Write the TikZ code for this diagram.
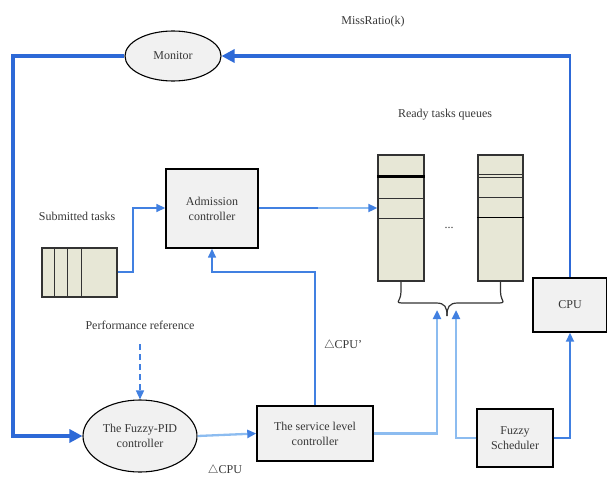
\documentclass[tikz,border=0pt]{standalone}
\usepackage{fontspec}
\setmainfont{Liberation Serif}
\usetikzlibrary{arrows.meta,shapes.geometric,calc}
\definecolor{thickblue}{RGB}{45,105,215}
\definecolor{lightblue}{RGB}{140,188,240}
\definecolor{midblue}{RGB}{65,128,225}
\definecolor{boxfill}{RGB}{241,241,241}
\definecolor{qfill}{RGB}{231,231,214}
\definecolor{txt}{RGB}{55,55,55}
\begin{document}
\begin{tikzpicture}[x=1pt,y=-1pt,
  font=\fontsize{12}{15}\selectfont,
  box/.style={draw=black, line width=1.4pt, fill=boxfill, inner sep=0pt, align=center, text=txt},
  oval/.style={ellipse, draw=black, line width=1.1pt, fill=boxfill, inner sep=0pt, align=center, text=txt},
  queue/.style={draw=black!80, line width=1.4pt, fill=qfill, inner sep=0pt},
  lbl/.style={text=txt, inner sep=0pt},
  loopline/.style={draw=thickblue, line width=3.2pt},
  liteline/.style={draw=lightblue, line width=2.3pt},
  thinline/.style={draw=midblue, line width=1.5pt},
  bigtip/.style={-{Triangle[length=13pt,width=13pt,color=thickblue]}},
  smalltip/.style={-{Triangle[length=9pt,width=8pt,color=midblue]}}]
\useasboundingbox (0,0) rectangle (607,479);

% nodes
\node[oval, minimum width=96pt, minimum height=50pt] (mon) at (173,56) {Monitor};
\node[oval, minimum width=114pt, minimum height=72pt] (fpid) at (140,436) {The Fuzzy-PID\\controller};
\node[box, minimum width=92pt, minimum height=79pt] (adm) at (212,208.5) {Admission\\controller};
\node[box, minimum width=116pt, minimum height=55pt] (srv) at (315,433.5) {The service level\\controller};
\node[box, minimum width=76pt, minimum height=58pt] (fsch) at (515,438) {Fuzzy\\Scheduler};
\node[box, minimum width=74pt, minimum height=54pt] (cpu) at (570,305) {CPU};

\node[queue, minimum width=75pt, minimum height=49pt] (subq) at (79.5,272.5) {};
\node[queue, minimum width=46pt, minimum height=126pt] (q1) at (401,218) {};
\node[queue, minimum width=45pt, minimum height=126pt] (q2) at (500.5,218) {};

% labels
\node[lbl] (missratio) at (373,22) {MissRatio(k)};
\node[lbl] (ready) at (445,115) {Ready tasks queues};
\node[lbl] (subm) at (77,216) {Submitted tasks};
\node[lbl] (perf) at (140,325) {Performance reference};
\node[lbl] (dcpup) at (343,345) {$\triangle$CPU'};
\node[lbl] (dcpu) at (225,470) {$\triangle$CPU};
\node[lbl] (dots) at (449,228) {...};

% queue internals
\draw[black!80, line width=1.4pt] ($(subq.north west)+(13,0)$) -- ($(subq.south west)+(13,0)$);
\draw[black!80, line width=1.4pt] ($(subq.north west)+(26,0)$) -- ($(subq.south west)+(26,0)$);
\draw[black!80, line width=1.4pt] ($(subq.north west)+(40,0)$) -- ($(subq.south west)+(40,0)$);

\draw[black, line width=2.4pt] ($(q1.north west)+(0,22)$) -- ($(q1.north east)+(0,22)$);
\draw[black!80, line width=1.4pt] ($(q1.north west)+(0,44)$) -- ($(q1.north east)+(0,44)$);
\draw[black!80, line width=1.4pt] ($(q1.north west)+(0,64)$) -- ($(q1.north east)+(0,64)$);

\draw[black!80, line width=1.4pt] ($(q2.north west)+(0,20)$) -- ($(q2.north east)+(0,20)$);
\draw[black!80, line width=1.4pt] ($(q2.north west)+(0,23)$) -- ($(q2.north east)+(0,23)$);
\draw[black!80, line width=1.4pt] ($(q2.north west)+(0,43)$) -- ($(q2.north east)+(0,43)$);
\draw[black, line width=1.4pt] ($(q2.north west)+(0,63)$) -- ($(q2.north east)+(0,63)$);

% brace
\coordinate (btip) at (447,316);
\draw[black!80, line width=1.2pt] (q1.south) -- ++(0,10) .. controls ++(0,12) and (390,303) .. (412,303) -- (436,303) .. controls (445,303) and (447,307) .. (btip);
\draw[black!80, line width=1.2pt] (q2.south) -- ++(0,10) .. controls ++(0,12) and (511,303) .. (489,303) -- (458,303) .. controls (449,303) and (447,307) .. (btip);

% coordinates
\coordinate (lc) at (13,436);
\coordinate (tr) at (570,56);
\coordinate (sq1) at (133,272);
\coordinate (sq2) at (133,208);
\coordinate (fb1) at (315,272);
\coordinate (fb2) at (212,272);
\coordinate (sv1) at (437,433.5);
\coordinate (sv2) at (437,310);
\coordinate (fs1) at (456,438);
\coordinate (fs2) at (456,310);
\coordinate (fc1) at (570,438);
\coordinate (pr) at (140,344);
\coordinate (am) at (318,208);

% main loop
\draw[draw=thickblue, line width=2.4pt] (cpu.north) -- ([yshift=1.6pt]tr);
\draw[loopline, bigtip] ([xshift=1.2pt]tr) -- (mon.east);
\draw[loopline, bigtip] (mon.west) -| (lc) -- (fpid.west);

% submitted -> admission
\draw[thinline, smalltip] (subq.east |- sq1) -- (sq1) -- (sq2) -- (adm.west |- sq2);
% admission -> queue
\draw[thinline] (adm.east |- am) -- (am);
\draw[liteline, line width=2pt, smalltip] (am) -- (q1.west |- am);
% feedback to admission
\draw[thinline, smalltip] (srv.north) -- (fb1) -- (fb2) -- (adm.south);
% performance reference
\draw[thinline, dashed, dash pattern=on 6pt off 4pt, smalltip] (pr) -- (fpid.north);
% fpid -> service
\draw[liteline, smalltip] (fpid.east) -- (srv.west);
% service -> queues
\draw[liteline, smalltip] (srv.east) -- (sv1) -- (sv2);
% scheduler -> queues
\draw[liteline, smalltip] (fsch.west) -- (fs1) -- (fs2);
% scheduler -> cpu
\draw[thinline, line width=1.8pt, smalltip] (fsch.east) -- (fc1) -- (cpu.south);
\end{tikzpicture}
\end{document}
